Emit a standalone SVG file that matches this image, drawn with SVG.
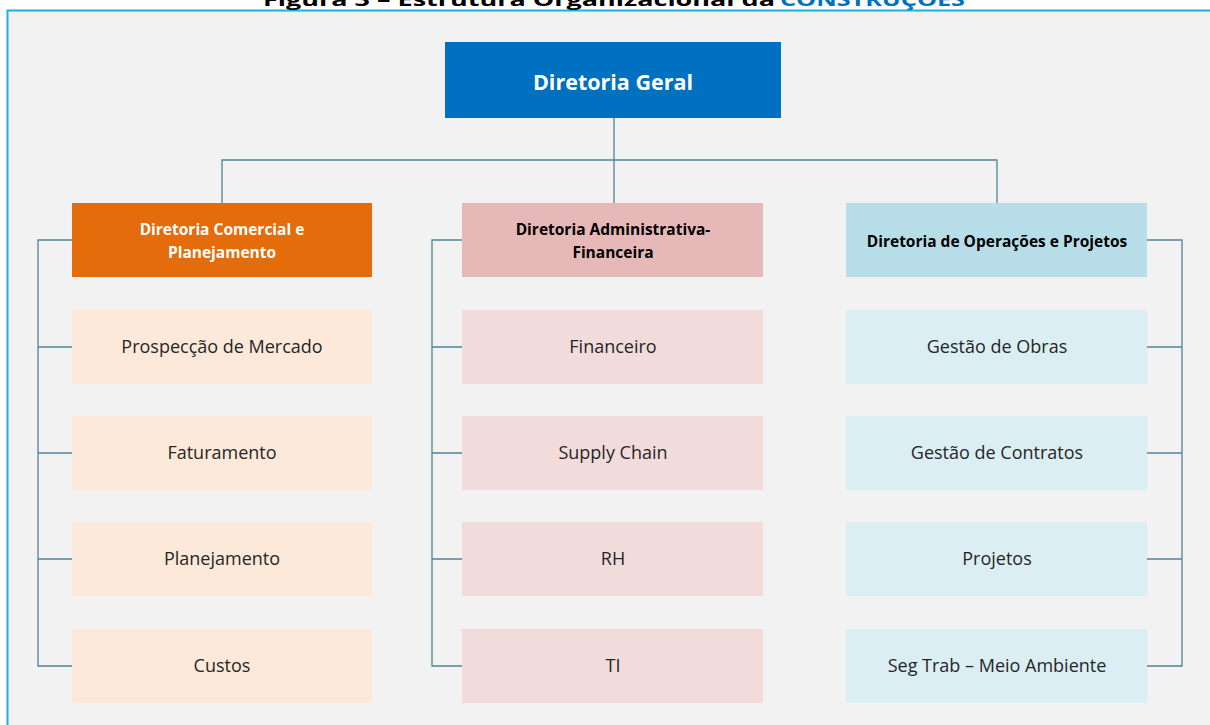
<svg xmlns="http://www.w3.org/2000/svg" width="1210" height="725" viewBox="0 0 1210 725">
<style>
text{font-family:"Open Sans","Noto Sans","Liberation Sans",sans-serif;text-anchor:middle}
.title{font-weight:bold;font-size:18px;text-anchor:start}
.head{font-weight:bold;font-size:15.5px}
.sub{font-size:18px;fill:#262626}
.conn{fill:none;stroke:#4E8596;stroke-width:1.3}
.c1{fill:#FDE9D9}.c2{fill:#F2DCDB}.c3{fill:#DBEEF3}
</style>
<rect x="0" y="0" width="1210" height="725" fill="#ffffff"/>
<rect x="7.5" y="10.5" width="1210" height="730" fill="#F2F2F2" stroke="#1AAFE6" stroke-width="2"/>
<g id="title">
<text class="title" x="263" y="6" textLength="512" lengthAdjust="spacingAndGlyphs" fill="#000">Figura 3 – Estrutura Organizacional da</text>
<text class="title" x="780" y="6" textLength="185" lengthAdjust="spacingAndGlyphs" fill="#0070C0">CONSTRUÇÕES</text>
</g>
<g id="connectors">
<path class="conn" d="M614 118V203M222 203V160H997V203"/>
<path class="conn" d="M72 240H38V666H72M38 347H72M38 453H72M38 559H72"/>
<path class="conn" d="M462 240H432V666H462M432 347H462M432 453H462M432 559H462"/>
<path class="conn" d="M1147 240H1182V666H1147M1182 347H1147M1182 453H1147M1182 559H1147"/>
</g>
<g id="diretoria-geral">
<rect x="445" y="42" width="336" height="76" fill="#0070C0"/>
<text x="613" y="90" font-size="21.5" font-weight="bold" fill="#fff">Diretoria Geral</text>
</g>
<g id="dir-comercial">
<rect x="72" y="203" width="300" height="74" fill="#E46C0A"/>
<text class="head" x="222" y="235" fill="#fff">Diretoria Comercial e</text>
<text class="head" x="222" y="258" fill="#fff">Planejamento</text>
</g>
<g id="dir-adm">
<rect x="462" y="203" width="301" height="74" fill="#E6B8B7"/>
<text class="head" x="613" y="235" fill="#000">Diretoria Administrativa-</text>
<text class="head" x="613" y="258" fill="#000">Financeira</text>
</g>
<g id="dir-oper">
<rect x="846" y="203" width="301" height="74" fill="#B7DEE8"/>
<text class="head" x="997" y="247" fill="#000">Diretoria de Operações e Projetos</text>
</g>
<g id="prospeccao"><rect class="c1" x="72" y="310" width="300" height="74"/><text class="sub" x="222" y="353">Prospecção de Mercado</text></g>
<g id="faturamento"><rect class="c1" x="72" y="416" width="300" height="74"/><text class="sub" x="222" y="459">Faturamento</text></g>
<g id="planejamento"><rect class="c1" x="72" y="522" width="300" height="74"/><text class="sub" x="222" y="565">Planejamento</text></g>
<g id="custos"><rect class="c1" x="72" y="629" width="300" height="74"/><text class="sub" x="222" y="672">Custos</text></g>
<g id="financeiro"><rect class="c2" x="462" y="310" width="301" height="74"/><text class="sub" x="613" y="353">Financeiro</text></g>
<g id="supply"><rect class="c2" x="462" y="416" width="301" height="74"/><text class="sub" x="613" y="459">Supply Chain</text></g>
<g id="rh"><rect class="c2" x="462" y="522" width="301" height="74"/><text class="sub" x="613" y="565">RH</text></g>
<g id="ti"><rect class="c2" x="462" y="629" width="301" height="74"/><text class="sub" x="613" y="672">TI</text></g>
<g id="obras"><rect class="c3" x="846" y="310" width="301" height="74"/><text class="sub" x="997" y="353">Gestão de Obras</text></g>
<g id="contratos"><rect class="c3" x="846" y="416" width="301" height="74"/><text class="sub" x="997" y="459">Gestão de Contratos</text></g>
<g id="projetos"><rect class="c3" x="846" y="522" width="301" height="74"/><text class="sub" x="997" y="565">Projetos</text></g>
<g id="segtrab"><rect class="c3" x="846" y="629" width="301" height="74"/><text class="sub" x="997" y="672">Seg Trab – Meio Ambiente</text></g>
</svg>
